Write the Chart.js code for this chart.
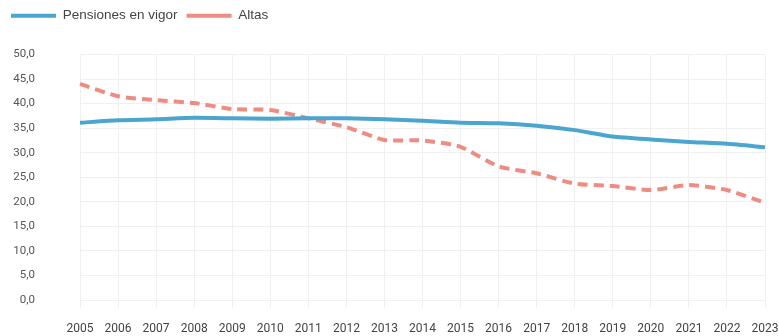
<!DOCTYPE html>
<html>
<head>
<meta charset="utf-8">
<script src="https://cdn.jsdelivr.net/npm/chart.js@4"></script>
<style>
  html, body { margin: 0; padding: 0; background: #fff; }
  #wrap { width: 779px; height: 336px; }
</style>
</head>
<body>
<div id="wrap"><canvas id="lineChart"></canvas></div>
<script>
var years = ['2005', '2006', '2007', '2008', '2009', '2010', '2011', '2012', '2013', '2014',
             '2015', '2016', '2017', '2018', '2019', '2020', '2021', '2022', '2023'];
var pensionesVigor = [36.1, 36.6, 36.8, 37.1, 37.0, 36.9, 37.0, 37.0, 36.8, 36.5,
                      36.1, 36.0, 35.5, 34.6, 33.3, 32.7, 32.2, 31.8, 31.1];
var altas = [44.0, 41.5, 40.7, 40.1, 38.9, 38.7, 37.0, 35.2, 32.6, 32.5,
             31.2, 27.2, 25.8, 23.7, 23.2, 22.4, 23.4, 22.4, 19.8];
var yMin = 0, yMax = 50, yStep = 5;

// extra room between legend and plot
var legendGap = {
    id: 'legendGap',
    beforeInit: function(chart) {
        var fit = chart.legend.fit;
        chart.legend.fit = function() {
            fit.bind(chart.legend)();
            this.height += 22;
        };
    }
};

document.addEventListener("DOMContentLoaded", function() {
    var ctx = document.getElementById('lineChart').getContext('2d');
    new Chart(ctx, {
        type: 'line',
        data: {
            labels: years,
            datasets: [{
                label: 'Pensiones en vigor',
                data: pensionesVigor,
                borderColor: '#4aa5cf',
                backgroundColor: '#4aa5cf',
                borderWidth: 4,
                pointRadius: 0,
                tension: 0.2
            }, {
                label: 'Altas',
                data: altas,
                borderColor: '#ee8c82',
                backgroundColor: '#ee8c82',
                borderWidth: 4,
                borderDash: [10, 6],
                pointRadius: 0,
                tension: 0.2
            }]
        },
        plugins: [legendGap],
        options: {
            responsive: true,
            maintainAspectRatio: false,
            animation: false,
            layout: { padding: { left: 2, right: 14, top: 0, bottom: 0 } },
            scales: {
                x: {
                    grid: { color: '#f0f0f0', tickLength: 8 },
                    border: { display: false },
                    afterFit: function(scale) {
                        scale.paddingRight = 0;
                        scale.paddingLeft = 0;
                        scale.height = 36;
                    },
                    ticks: {
                        color: '#444',
                        padding: 14,
                        maxRotation: 0,
                        autoSkip: false,
                        font: { family: 'Roboto', size: 12 }
                    }
                },
                y: {
                    min: yMin,
                    max: yMax,
                    grid: { color: '#f0f0f0', drawTicks: false },
                    border: { display: false },
                    afterFit: function(scale) {
                        scale.width = 78;
                        scale.paddingTop = 0;
                        scale.paddingBottom = 0;
                    },
                    ticks: {
                        stepSize: yStep,
                        color: '#555',
                        padding: 45,
                        font: { family: 'Roboto', size: 11.5 },
                        callback: function(v) { return v.toFixed(1).replace('.', ','); }
                    }
                }
            },
            plugins: {
                legend: {
                    align: 'start',
                    labels: {
                        color: '#444',
                        usePointStyle: true,
                        pointStyle: 'line',
                        pointStyleWidth: 45,
                        boxWidth: 45,
                        padding: 9,
                        font: { family: 'Arimo, Liberation Sans, sans-serif', size: 13.5 }
                    }
                },
                tooltip: { enabled: false }
            }
        }
    });
});
</script>
</body>
</html>
